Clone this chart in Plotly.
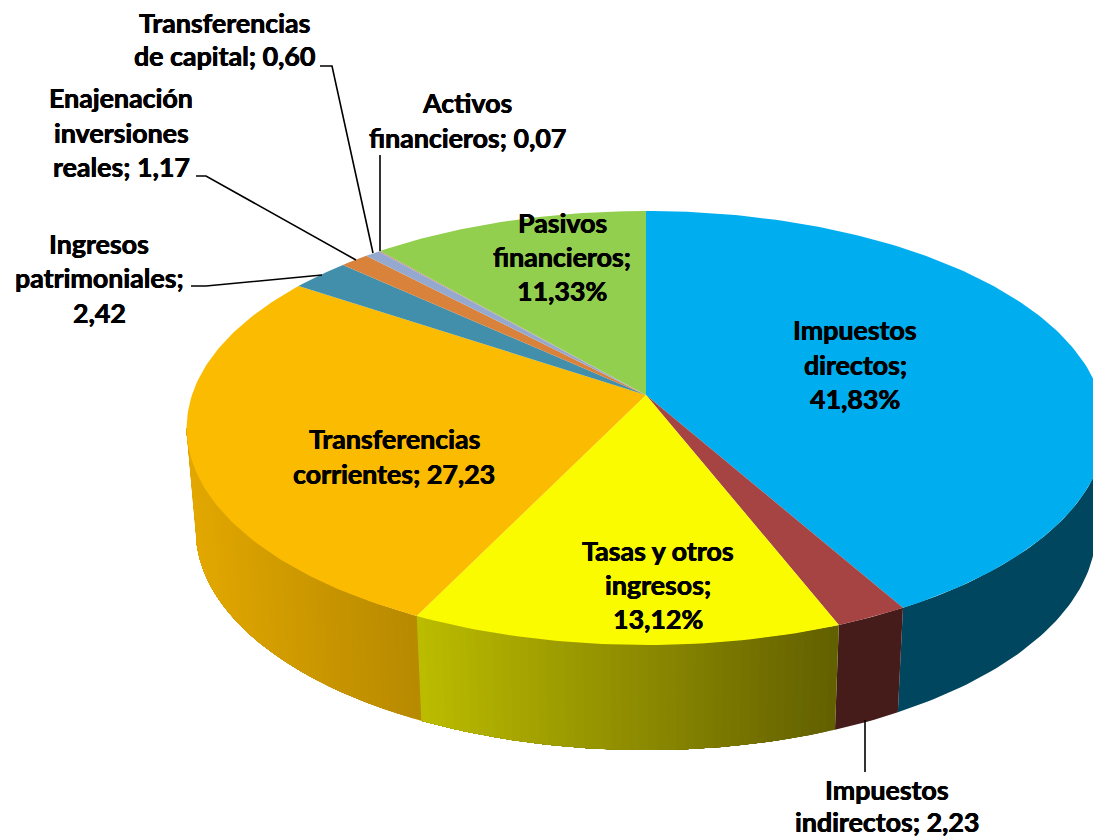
import math
import plotly.graph_objects as go

# ---- data ----
categories = ["Impuestos directos", "Impuestos indirectos", "Tasas y otros ingresos",
              "Transferencias corrientes", "Ingresos patrimoniales",
              "Enajenación inversiones reales", "Transferencias de capital",
              "Activos financieros", "Pasivos financieros"]
values = [41.83, 2.23, 13.12, 27.23, 2.42, 1.17, 0.60, 0.07, 11.33]
top_colors = ["#00AEEF", "#A54442", "#FBFB00", "#FBBB00", "#418FAB",
              "#D9823B", "#95A9CF", "#C58E9C", "#92CF4F"]
# wall colours: (left end, right end) as seen on the page
wall_colors = [("#00465F", "#00465F"), ("#451C1A", "#451C1A"), ("#BCBC00", "#625F00"),
               ("#E3A800", "#B78900"), None, None, None, None, None]

# label lines and where they sit on the page (x centre, y centre of each line)
label_lines = [
    (["Transferencias", "de capital; 0,60"], 224, [23, 56]),
    (["Enajenación", "inversiones", "reales; 1,17"], 121, [98, 133, 167]),
    (["Activos", "financieros; 0,07"], 467, [103, 138]),
    (["Ingresos", "patrimoniales;", "2,42"], 99, [244, 278, 313]),
    (["Pasivos", "financieros;", "11,33%"], 562, [223, 257, 291]),
    (["Impuestos", "directos;", "41,83%"], 855, [330, 365, 399]),
    (["Transferencias", "corrientes; 27,23"], 394, [439, 474]),
    (["Tasas y otros", "ingresos;", "13,12%"], 658, [551, 585, 619]),
    (["Impuestos", "indirectos; 2,23"], 887, [790, 822]),
]
leaders = [
    ([320, 332, 373], [66, 66, 253]),
    ([196, 206, 356], [176, 176, 260]),
    ([380, 380], [155, 251]),
    ([191, 206, 322], [286, 286, 275]),
    ([865, 865], [720, 772]),
]

# ---- perspective model of the 3D pie ----
CX, CY = 646, 395
A, B, K = 454, 212, 0.152
LOW_SX, LOW_Y0, LOW_B = 0.98, 496.5, 215
FONT = "Lato"


def top(theta):
    X, Y = math.sin(theta), math.cos(theta)
    d = 1 + K * Y
    return CX + A * X / d, CY - B * Y / d


def low(theta):
    X, Y = math.sin(theta), math.cos(theta)
    d = 1 + K * Y
    return CX + LOW_SX * A * X / d, LOW_Y0 - LOW_B * Y / d


def mix(c1, c2, t):
    a = [int(c1[i:i + 2], 16) for i in (1, 3, 5)]
    b = [int(c2[i:i + 2], 16) for i in (1, 3, 5)]
    return "#%02X%02X%02X" % tuple(round(a[i] + (b[i] - a[i]) * t) for i in range(3))


total = sum(values)
edges = [0.0]
for v in values:
    edges.append(edges[-1] + v / total * 2 * math.pi)

fig = go.Figure()


def poly(xs, ys, color):
    fig.add_trace(go.Scatter(x=xs, y=ys, mode="lines", fill="toself", fillcolor=color,
                             line=dict(color=color, width=0), hoverinfo="skip",
                             showlegend=False))


# walls: only the front half of the rim is visible.  Each gradient step runs on to the
# far end of its slice, so the next step paints over it and no seams can show.
vis_a = math.pi / 2 + math.asin(K)
vis_b = 3 * math.pi / 2 - math.asin(K)
STEP = math.radians(1.0)
for i, wc in enumerate(wall_colors):
    if wc is None:
        continue
    a0, a1 = max(edges[i], vis_a), min(edges[i + 1], vis_b)
    if a1 <= a0:
        continue
    n = max(2, int((a1 - a0) / STEP))
    angles = [a0 + (a1 - a0) * j / n for j in range(n + 1)]
    xl, xr = top(a1)[0], top(a0)[0]
    starts = [0] if wc[0] == wc[1] else range(n)
    for s in starts:
        part = angles[s:]
        p = [top(t) for t in part] + [low(t) for t in reversed(part)]
        p.append(p[0])
        xm = top(part[0])[0] if wc[0] == wc[1] else (top(angles[s])[0] + top(angles[s + 1])[0]) / 2
        poly([q[0] for q in p], [q[1] for q in p], mix(wc[0], wc[1], (xm - xl) / (xr - xl)))

# top faces
for i, c in enumerate(top_colors):
    n = max(2, int((edges[i + 1] - edges[i]) / STEP))
    pts = [top(edges[i] + (edges[i + 1] - edges[i]) * j / n) for j in range(n + 1)]
    xs = [CX] + [q[0] for q in pts] + [CX]
    ys = [CY] + [q[1] for q in pts] + [CY]
    poly(xs, ys, c)

# leader lines
for lx, ly in leaders:
    fig.add_trace(go.Scatter(x=lx, y=ly, mode="lines", line=dict(color="#000000", width=1.6),
                             hoverinfo="skip", showlegend=False))

annotations = []
for lines, x, ys in label_lines:
    for t, y in zip(lines, ys):
        annotations.append(dict(x=x, y=y, text="<b>%s</b>" % t, showarrow=False,
                                xanchor="center", yanchor="middle",
                                font=dict(family=FONT, size=26.8, color="#000000",
                                          shadow="0.35px 0 0 #000, -0.35px 0 0 #000")))

fig.update_layout(
    width=1093, height=839, margin=dict(l=0, r=0, t=0, b=0),
    paper_bgcolor="#FFFFFF", plot_bgcolor="#FFFFFF", showlegend=False,
    xaxis=dict(range=[0, 1093], visible=False, fixedrange=True),
    yaxis=dict(range=[839, 0], visible=False, fixedrange=True),
    annotations=annotations,
)
fig.write_html("out.html", config=dict(displayModeBar=False),
               post_script="document.body.style.margin='0';document.documentElement.style.overflow='hidden';")
